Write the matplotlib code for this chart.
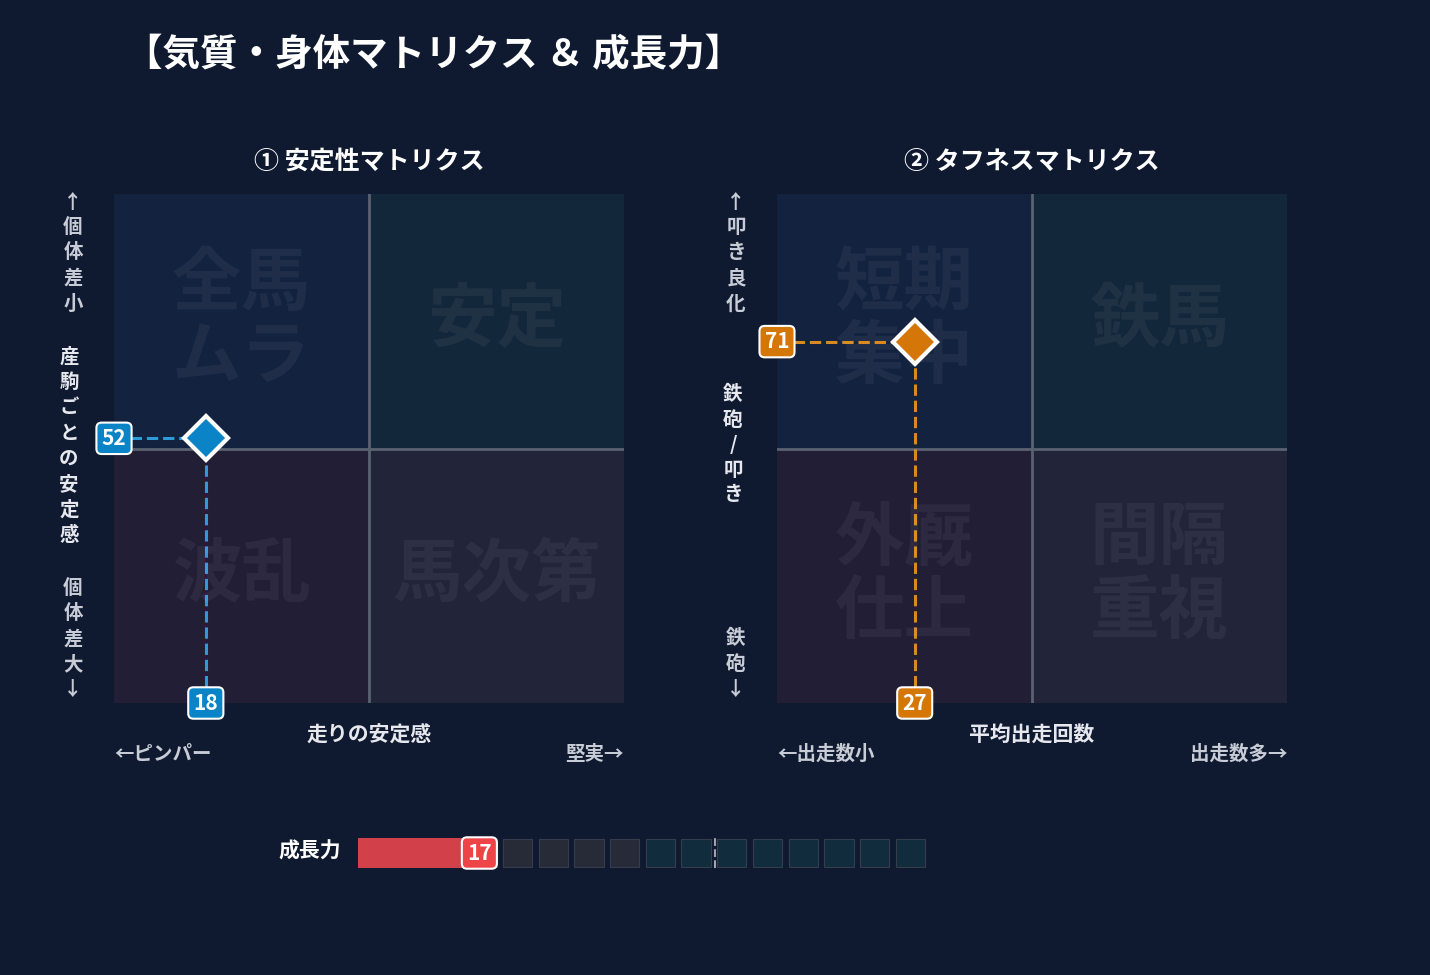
import matplotlib.pyplot as plt
from matplotlib.patches import Rectangle

plt.rcParams['font.family'] = ['Noto Sans CJK JP', 'DejaVu Sans']

BG = '#0f1a30'
W, H = 1430, 975

# data
stab_x, stab_y = 18, 52
tough_x, tough_y = 27, 71
growth = 17
n_cells = 20
cell_colors = ['#2a2540'] * 4 + ['#2a2d3a'] * 4 + ['#12303f'] * 8
cell_colors = ['#d2404a'] * 4 + cell_colors

panels = [
    dict(rect=(114, 194, 510, 509), title='① 安定性マトリクス',
         quads=[('全馬\nムラ', '#13223f'), ('安定', '#12273a'), ('波乱', '#221e36'), ('馬次第', '#22253a')],
         x=stab_x, y=stab_y, color='#0a84c6', line='#2e9bd6',
         xlabel='走りの安定感', xl='←ピンパー', xr='堅実→'),
    dict(rect=(777, 194, 510, 509), title='② タフネスマトリクス',
         quads=[('短期\n集中', '#13223f'), ('鉄馬', '#12273a'), ('外厩\n仕上', '#221e36'), ('間隔\n重視', '#22253a')],
         x=tough_x, y=tough_y, color='#d47608', line='#d88a1e',
         xlabel='平均出走回数', xl='←出走数小', xr='出走数多→'),
]

fig = plt.figure(figsize=(W / 100, H / 100), dpi=100, facecolor=BG)
fig.text(125 / W, 1 - 55 / H, '【気質・身体マトリクス ＆ 成長力】', color='white',
         fontsize=27, fontweight='bold', va='center')

def ax_at(x, y, w, h):
    return fig.add_axes([x / W, 1 - (y + h) / H, w / W, h / H])

for p in panels:
    ax = ax_at(*p['rect'])
    ax.set_xlim(0, 100)
    ax.set_ylim(0, 100)
    ax.axis('off')
    pos = [(0, 50), (50, 50), (0, 0), (50, 0)]
    for (txt, col), (qx, qy) in zip(p['quads'], pos):
        ax.add_patch(Rectangle((qx, qy), 50, 50, color=col, zorder=0))
        ax.text(qx + 25, qy + 25, txt, ha='center', va='center', fontsize=50,
                fontweight='bold', color='white', alpha=0.05, linespacing=1.05)
    ax.axvline(50, color='#5a6272', lw=2, zorder=1)
    ax.axhline(50, color='#5a6272', lw=2, zorder=1)
    ax.plot([0, p['x']], [p['y'], p['y']], ls='--', color=p['line'], lw=2.2, zorder=2)
    ax.plot([p['x'], p['x']], [0, p['y']], ls='--', color=p['line'], lw=2.2, zorder=2)
    ax.plot(p['x'], p['y'], marker='D', ms=22, color=p['color'], mec='white', mew=3, zorder=4,
            clip_on=False)
    box = dict(boxstyle='round,pad=0.25', fc=p['color'], ec='white', lw=1.5)
    ax.text(0, p['y'], str(p['y']), ha='center', va='center', fontsize=15, fontweight='bold',
            color='white', bbox=box, zorder=5)
    ax.text(p['x'], 0, str(p['x']), ha='center', va='center', fontsize=15, fontweight='bold',
            color='white', bbox=box, zorder=5)
    ax.set_title(p['title'], color='white', fontsize=18, fontweight='bold', pad=18)
    x0, y0, w, h = p['rect']
    fig.text((x0 + w / 2) / W, 1 - 735 / H, p['xlabel'], ha='center', va='center',
             color='#e6e8ee', fontsize=15, fontweight='bold')
    fig.text(x0 / W, 1 - 754 / H, p['xl'], ha='left', va='center', color='#c8ccd6',
             fontsize=14, fontweight='bold')
    fig.text((x0 + w) / W, 1 - 754 / H, p['xr'], ha='right', va='center', color='#c8ccd6',
             fontsize=14, fontweight='bold')

def vtext(x, y, s, size=14, color='#c8ccd6', step=25.5):
    for i, ch in enumerate(s):
        fig.text(x / W, 1 - (y + i * step) / H, ch, ha='center', va='center',
                 color=color, fontsize=size, fontweight='bold')

vtext(73, 202, '↑個体差小')
vtext(69, 357, '産駒ごとの安定感', color='#e6e8ee')
vtext(73, 588, '個体差大↓')
vtext(736, 202, '↑叩き良化')
vtext(733, 395, '鉄砲/叩き', color='#e6e8ee', step=25)
vtext(736, 639, '鉄砲↓')

# growth bar
gx = ax_at(358, 838, 714, 30)
gx.set_xlim(0, 100)
gx.set_ylim(0, 1)
gx.axis('off')
cw = 100 / n_cells
for i, col in enumerate(cell_colors[4:]):
    gx.add_patch(Rectangle((i * cw + 0.3, 0.03), cw - 0.9, 0.94, fc=col, ec='#3a3f50',
                           lw=0.8, alpha=0.9))
gx.add_patch(Rectangle((0, 0), growth, 1, fc='#d2404a', ec='none', zorder=3))
gx.axvline(50, color='#a0a4ae', ls='--', lw=1.5, zorder=4)
gx.text(growth, 0.5, str(growth), ha='center', va='center', fontsize=15, fontweight='bold',
        color='white', zorder=5,
        bbox=dict(boxstyle='round,pad=0.25', fc='#ee4448', ec='white', lw=1.5))
fig.text(310 / W, 1 - 851 / H, '成長力', ha='center', va='center', color='white',
         fontsize=15, fontweight='bold')

fig.savefig('out.png', dpi=100, facecolor=BG)
